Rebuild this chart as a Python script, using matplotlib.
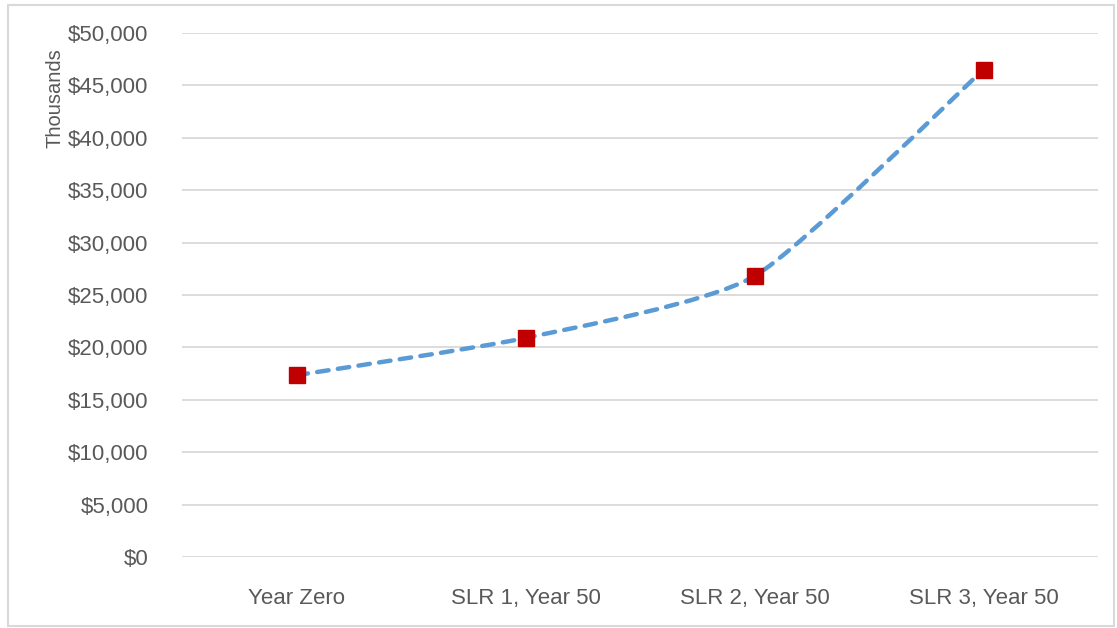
import matplotlib
matplotlib.use("Agg")
import matplotlib.pyplot as plt
from matplotlib.path import Path
from matplotlib.patches import PathPatch, Rectangle
from matplotlib.ticker import FuncFormatter, MultipleLocator

scenarios = ["Year Zero", "SLR 1, Year 50", "SLR 2, Year 50", "SLR 3, Year 50"]
damages = [17350, 20900, 26800, 46500]  # thousands of dollars

line_blue = "#5B9BD5"
marker_red = "#C00000"
text_grey = "#595959"
grid_grey = "#D9D9D9"

plt.rcParams["font.family"] = ["Liberation Sans", "DejaVu Sans"]


def smooth_path(xs, ys, tension=0.1):
    # cubic bezier through every point, tangents from the neighbours
    pts = list(zip(xs, ys))
    n = len(pts)
    verts = [pts[0]]
    codes = [Path.MOVETO]
    for i in range(n - 1):
        p0 = pts[max(i - 1, 0)]
        p1 = pts[i]
        p2 = pts[i + 1]
        p3 = pts[min(i + 2, n - 1)]
        c1 = (p1[0] + (p2[0] - p0[0]) * tension, p1[1] + (p2[1] - p0[1]) * tension)
        c2 = (p2[0] - (p3[0] - p1[0]) * tension, p2[1] - (p3[1] - p1[1]) * tension)
        verts += [c1, c2, p2]
        codes += [Path.CURVE4] * 3
    return Path(verts, codes)


fig = plt.figure(figsize=(11.17, 6.28), dpi=100)
ax = fig.add_axes([182 / 1117, 1 - 557 / 628, 916 / 1117, 524 / 628])

xs = list(range(len(scenarios)))
curve = PathPatch(smooth_path(xs, damages), fill=False, edgecolor=line_blue,
                  linewidth=3.2, linestyle=(0, (2.6, 2.1)), capstyle="round",
                  zorder=3)
ax.add_patch(curve)
ax.plot(xs, damages, linestyle="none", marker="s", markersize=11,
        markerfacecolor=marker_red, markeredgecolor=marker_red, zorder=4)

ax.set_xlim(-0.5, len(scenarios) - 0.5)
ax.set_ylim(0, 50000)
ax.yaxis.set_major_locator(MultipleLocator(5000))
ax.yaxis.set_major_formatter(FuncFormatter(lambda v, p: "${:,.0f}".format(v)))
ax.set_xticks(xs)
ax.set_xticklabels(scenarios)
ax.grid(axis="y", color=grid_grey, linewidth=1.3)
ax.set_axisbelow(True)
for s in ax.spines.values():
    s.set_visible(False)
ax.tick_params(axis="both", length=0, labelsize=16, labelcolor=text_grey)
ax.tick_params(axis="y", pad=24)
ax.tick_params(axis="x", pad=22)

fig.text(55 / 1117, 1 - 98 / 628, "Thousands", rotation=90, ha="center",
         va="center", fontsize=14.5, color=text_grey)

# chart area border
fig.patches.append(Rectangle((8 / 1117, 2 / 628), 1106 / 1117, 621 / 628,
                             transform=fig.transFigure, fill=False,
                             edgecolor=grid_grey, linewidth=1.5))

fig.savefig("out.png", dpi=100)
